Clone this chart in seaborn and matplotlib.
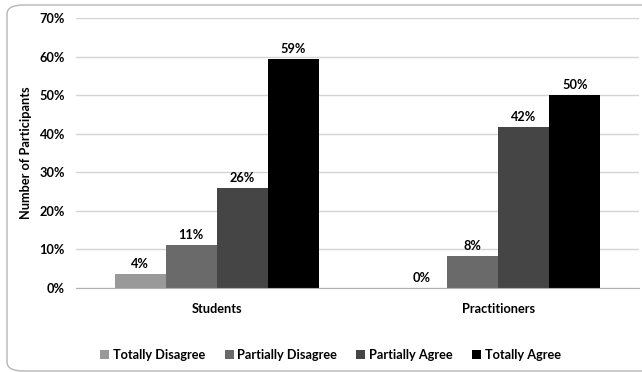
import pandas as pd
import numpy as np
import matplotlib.pyplot as plt
import seaborn as sns
from matplotlib.patches import FancyBboxPatch

# Chart data (percent of participants)
groups = ['Students', 'Practitioners']
responses = ['Totally Disagree', 'Partially Disagree', 'Partially Agree', 'Totally Agree']
students = [3.7, 11.1, 25.9, 59.3]
practitioners = [0.0, 8.3, 41.7, 50.0]
y_ticks = [0, 10, 20, 30, 40, 50, 60, 70]

colors = ['#999999', '#6a6a6a', '#454545', '#000000']

data = pd.DataFrame({
    'Group': np.repeat(groups, len(responses)),
    'Response': responses * len(groups),
    'Value': students + practitioners,
})

sns.set_style('white')
plt.rcParams['font.family'] = ['Lato', 'DejaVu Sans']
plt.rcParams['font.weight'] = 'bold'
plt.rcParams['text.color'] = 'black'
plt.rcParams['xtick.color'] = '#b0b0b0'
plt.rcParams['xtick.labelcolor'] = 'black'
plt.rcParams['ytick.labelcolor'] = 'black'

fs = 9.2

fig = plt.figure(figsize=(6.42, 3.72), dpi=100)
ax = fig.add_axes([76 / 642, 1 - 288 / 372, (639 - 76) / 642, 270 / 372])

sns.barplot(data=data, x='Group', y='Value', hue='Response', order=groups,
            hue_order=responses, palette=colors, width=0.726, saturation=1,
            edgecolor='none', ax=ax)

# Data labels
for cont in ax.containers:
    ax.bar_label(cont, labels=[f'{v:.0f}%' for v in cont.datavalues],
                 padding=3, fontsize=fs, fontweight='bold', color='black')

ax.set_ylim(0, 70)
ax.set_yticks(y_ticks)
ax.set_yticklabels([f'{t}%' for t in y_ticks], fontsize=fs, fontweight='bold')
ax.set_xlim(-0.5, 1.5)
ax.set_xticks([-0.5, 0, 0.5, 1, 1.5])
ax.set_xticklabels(['', 'Students', '', 'Practitioners', ''], fontsize=fs, fontweight='bold')
ax.tick_params(axis='x', length=5, width=1, pad=6)
ax.tick_params(axis='y', length=0, pad=8)
ax.yaxis.grid(True, color='#d4d4d4', linewidth=1)
ax.set_axisbelow(True)
ax.set_xlabel('')
ax.set_ylabel('Number of Participants', fontsize=fs, fontweight='bold', labelpad=5,
              color='black')
for s in ['top', 'right', 'left']:
    ax.spines[s].set_visible(False)
ax.spines['bottom'].set_color('#b0b0b0')

# Legend at bottom
handles, labels = ax.get_legend_handles_labels()
ax.get_legend().remove()
fig.legend(handles, labels, loc='center', bbox_to_anchor=(0.515, 1 - 355 / 372),
           ncol=4, frameon=False, fontsize=fs, handlelength=0.7, handleheight=0.7,
           handletextpad=0.3, columnspacing=1.5)

# Rounded outer border
border = FancyBboxPatch((7 / 642, 1 / 372), 700 / 642, 366 / 372,
                        boxstyle='round,pad=0,rounding_size=0.025',
                        transform=fig.transFigure, facecolor='none',
                        edgecolor='#b5b5b5', linewidth=1, clip_on=False)
fig.patches.append(border)

plt.savefig('out.png', dpi=100)
plt.close()
